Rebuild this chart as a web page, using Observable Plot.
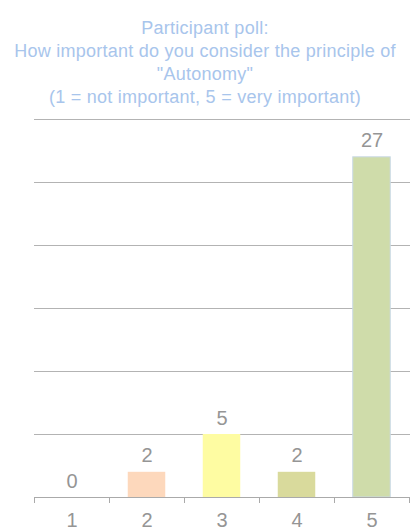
<!DOCTYPE html>
<html>
<head>
<meta charset="utf-8">
<script src="https://cdn.jsdelivr.net/npm/d3@7"></script>
<script src="https://cdn.jsdelivr.net/npm/@observablehq/plot@0.6"></script>
<style>
  body { margin: 0; background: #fff; font-family: "Liberation Sans", Arial, sans-serif; }
  #title { text-align: center; color: #a8c5ec; font-size: 18px; letter-spacing: 0.25px; line-height: 23px; padding-top: 17px; width: 410px; height: 92px; white-space: nowrap; }
</style>
</head>
<body>
<div id="title">Participant poll:<br>How important do you consider the principle of<br>"Autonomy"<br>(1 = not important, 5 = very important)</div>
<div id="chart"></div>
<script>
const ratings = [1, 2, 3, 4, 5];
const counts = [0, 2, 5, 2, 27];
const colors = ["#fdd8bc", "#fdd8bc", "#fefca2", "#d9da9c", "#cfdcaa"];
const gridValues = [0, 5, 10, 15, 20, 25, 30];
const boundaries = [0.5, 1.5, 2.5, 3.5, 4.5, 5.5];

const data = ratings.map((r, i) => ({rating: r, count: counts[i], color: colors[i]}));

const chart = Plot.plot({
  width: 410,
  height: 421,
  marginTop: 10,
  marginBottom: 33,
  marginLeft: 34,
  marginRight: 1,
  style: {fontFamily: '"Liberation Sans", Arial, sans-serif', fontSize: "20px", color: "#959595"},
  x: {domain: [0.5, 5.5], axis: null},
  y: {domain: [0, 30], axis: null},
  marks: [
    Plot.ruleY(gridValues.filter(v => v > 0), {stroke: "#b3b3b3", strokeOpacity: 1, x1: 0.5, x2: 5.5, insetRight: -1}),
    Plot.rectY(data.filter(d => d.count > 0), {
      x1: d => d.rating - 0.25, x2: d => d.rating + 0.25, y: "count",
      fill: d => d.color,
      stroke: d => d.rating === 5 ? "#c9d9e6" : "none", strokeWidth: 1
    }),
    Plot.ruleY([0], {stroke: "#aaaaaa", x1: 0.5, x2: 5.5}),
    Plot.axisX(boundaries, {tickSize: 6, tickFormat: () => "", stroke: "#aaaaaa", strokeOpacity: 1, label: null}),
    Plot.axisX(ratings, {tickSize: 0, tickPadding: 15, fill: "#959595", fontSize: 20, tickFormat: d => String(d), label: null}),
    Plot.text(data, {x: "rating", y: "count", text: d => String(d.count), lineAnchor: "bottom", dy: -10, fill: "#959595", fontSize: 20})
  ]
});
document.getElementById("chart").appendChild(chart);
</script>
</body>
</html>
